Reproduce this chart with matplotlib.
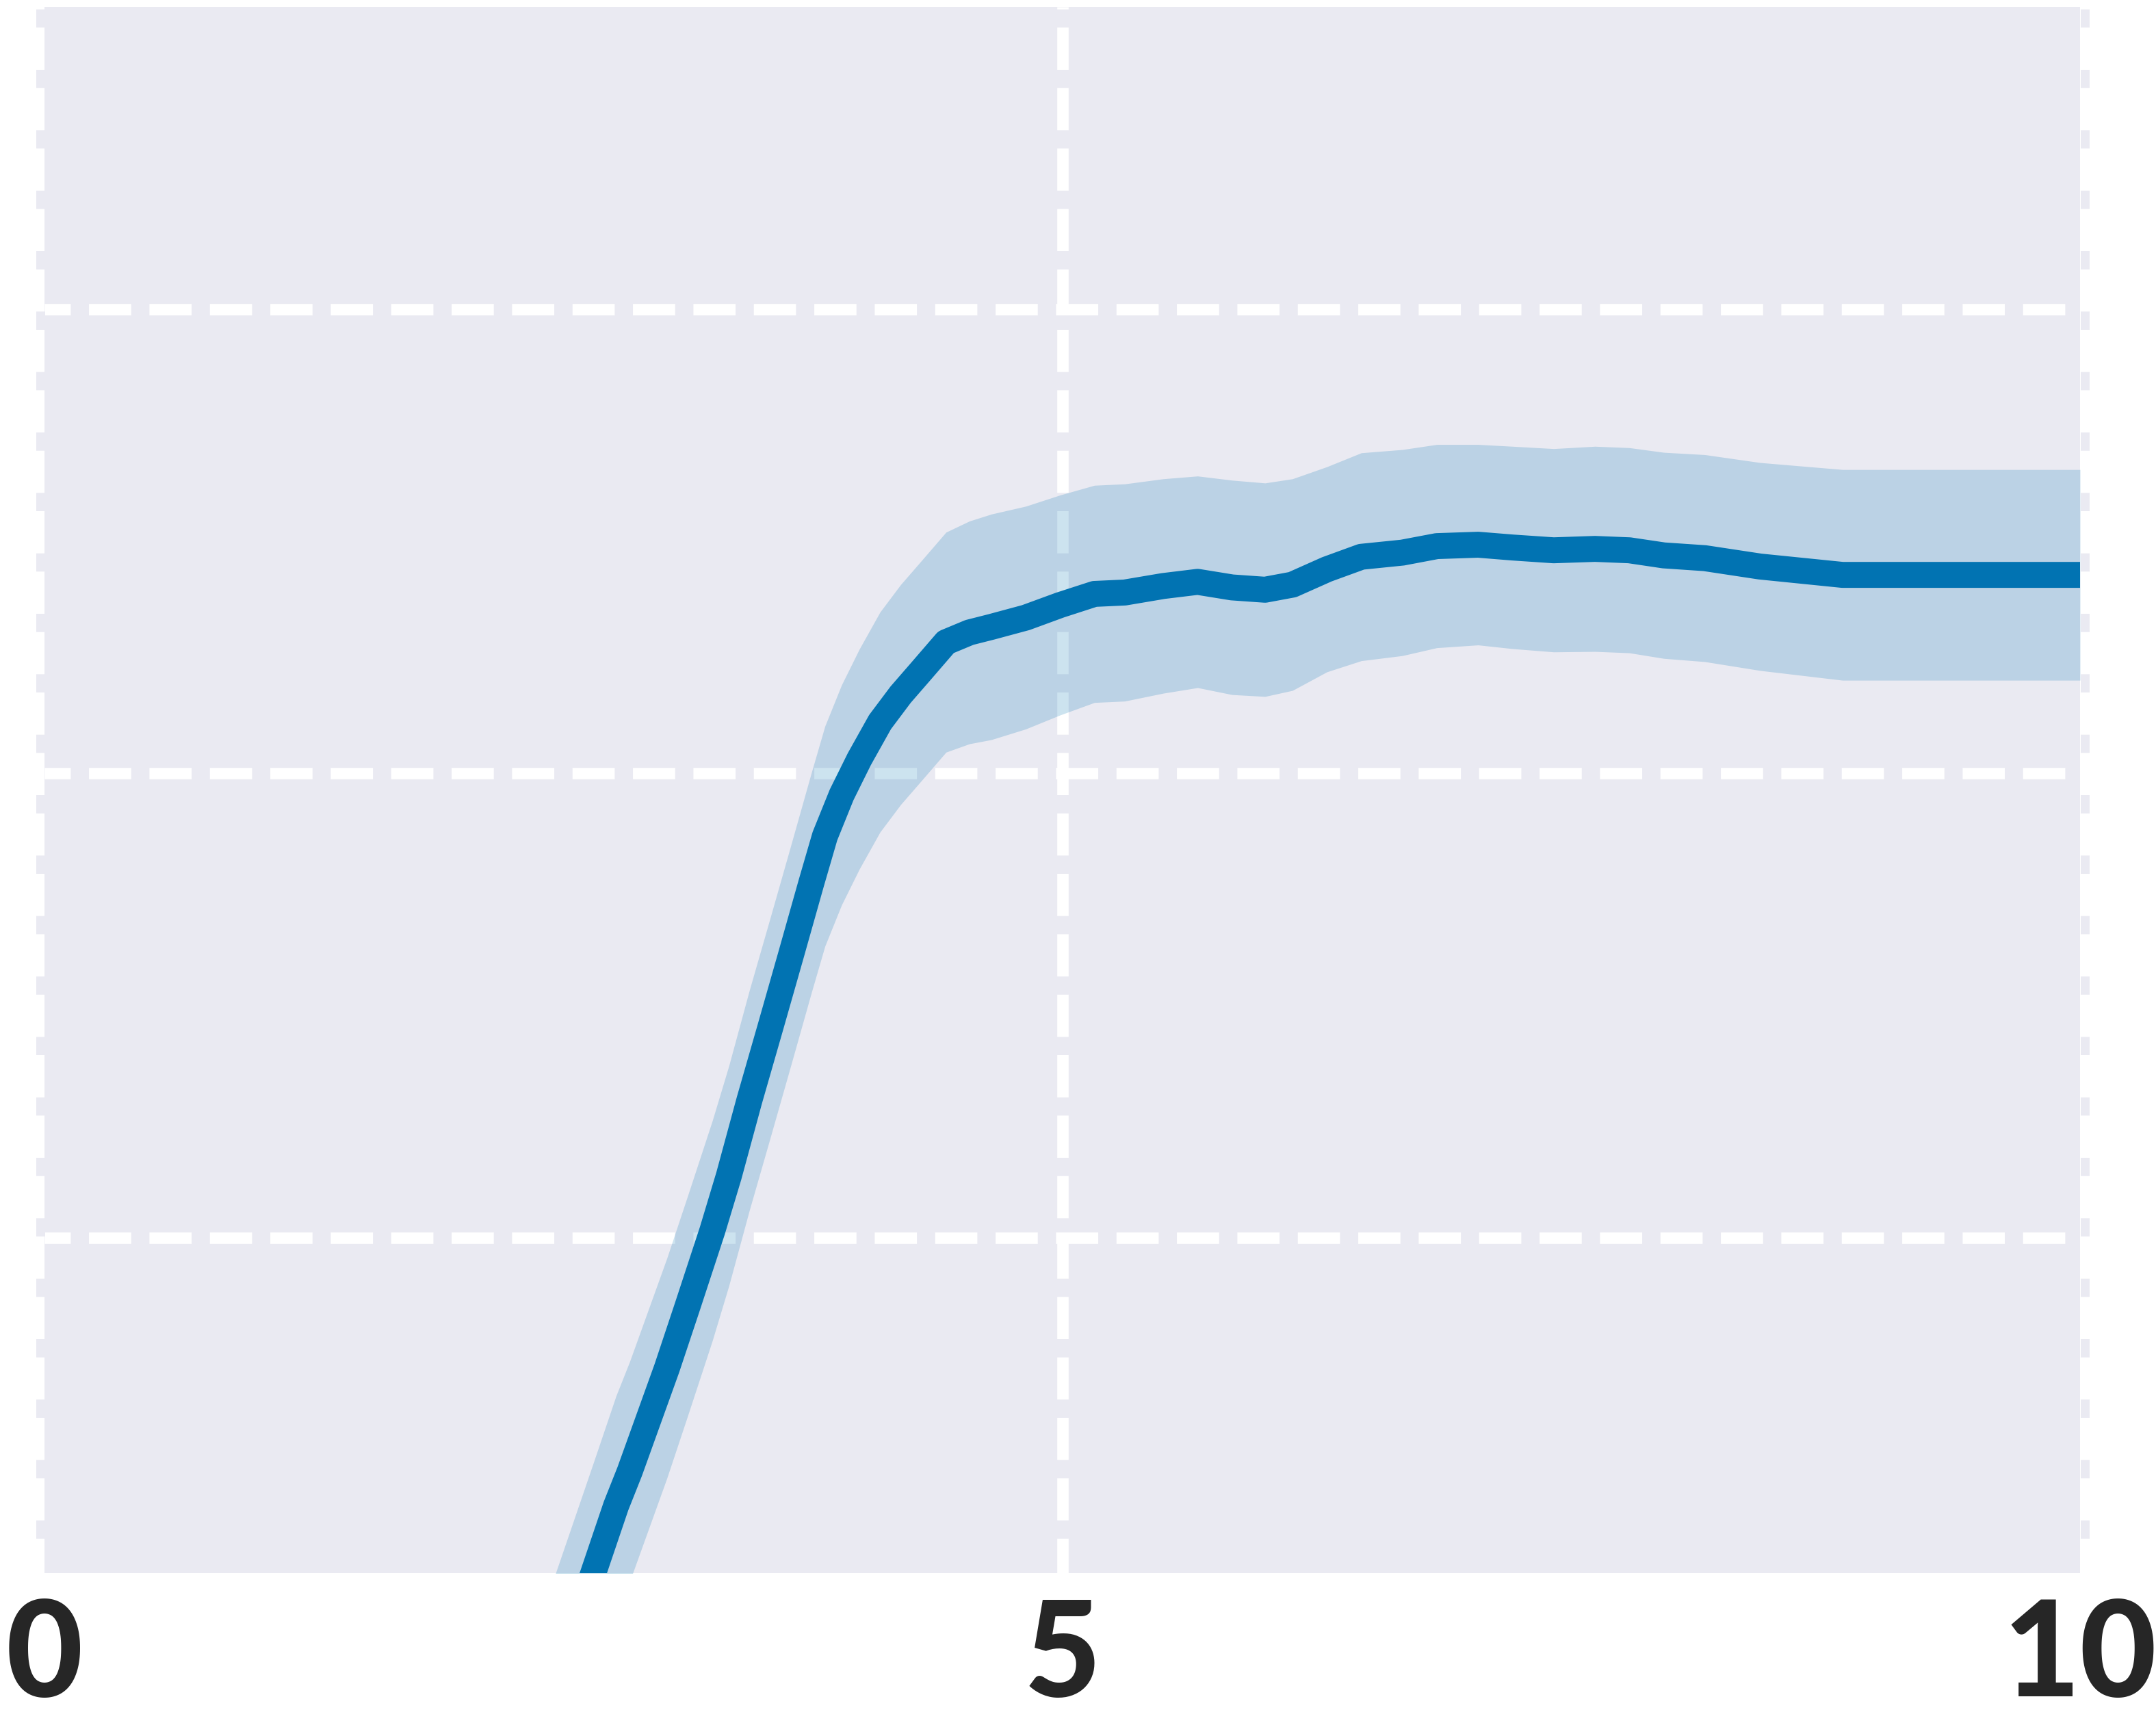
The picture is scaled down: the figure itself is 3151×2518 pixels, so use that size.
import numpy as np
import matplotlib.pyplot as plt
from matplotlib import transforms

# values
x = [2.416, 2.511, 2.696, 2.808, 2.875, 3.058, 3.159, 3.281, 3.362, 3.463,
     3.564, 3.666, 3.767, 3.834, 3.916, 4.003, 4.105, 4.206, 4.307, 4.429,
     4.544, 4.652, 4.821, 4.989, 5.158, 5.307, 5.496, 5.665, 5.834, 5.996,
     6.131, 6.300, 6.469, 6.671, 6.840, 7.043, 7.212, 7.414, 7.617, 7.786,
     7.955, 8.157, 8.428, 8.833, 9.441, 10.0]
mean = [-0.081, 0.040, 0.277, 0.422, 0.496, 0.719, 0.852, 1.015, 1.133, 1.296,
        1.450, 1.607, 1.764, 1.865, 1.954, 2.031, 2.111, 2.170, 2.221, 2.283,
        2.304, 2.316, 2.336, 2.363, 2.387, 2.390, 2.404, 2.413, 2.401, 2.396,
        2.407, 2.440, 2.467, 2.476, 2.490, 2.493, 2.487, 2.481, 2.484, 2.481,
        2.470, 2.464, 2.446, 2.428, 2.428, 2.428]
# half width of the shaded band
band = [0.237, 0.237, 0.237, 0.237, 0.237, 0.237, 0.237, 0.237, 0.237, 0.237,
        0.237, 0.237, 0.237, 0.237, 0.237, 0.237, 0.237, 0.237, 0.237, 0.237,
        0.240, 0.243, 0.240, 0.237, 0.234, 0.234, 0.231, 0.228, 0.231, 0.230,
        0.228, 0.221, 0.224, 0.222, 0.219, 0.216, 0.218, 0.219, 0.221, 0.221,
        0.222, 0.223, 0.224, 0.227, 0.227, 0.227]

xticks = [0, 5, 10]
xgrid = [5]
yticks = [1, 2, 3]
xlim = (0, 10)
ylim = (0.277, 3.652)

blue = '#0173B2'
face = '#EAEAF2'

plt.rcParams['lines.scale_dashes'] = False

dpi = 300
W, H = 3151, 2518
fig = plt.figure(figsize=(W / dpi, H / dpi), dpi=dpi)
ax = fig.add_axes([65 / W, 1 - 2299 / H, (3040 - 65) / W, (2299 - 10) / H])
ax.set_facecolor(face)
for s in ax.spines.values():
    s.set_visible(False)
ax.set_axisbelow(True)

lower = np.array(mean) - np.array(band)
upper = np.array(mean) + np.array(band)
ax.fill_between(x, lower, upper, color=blue, alpha=0.2, linewidth=0)
ax.plot(x, mean, color=blue, linewidth=9.1)

ax.set_xlim(*xlim)
ax.set_ylim(*ylim)

# ticks and dashed white grid (only the inner vertical line is drawn)
ax.xaxis.remove_overlapping_locs = False
ax.set_xticks(xticks)
ax.set_xticklabels([str(t) for t in xticks])
ax.set_xticks(xgrid, minor=True)
ax.set_yticks(yticks)
ax.tick_params(axis='x', which='both', length=0, pad=8.5)
ax.tick_params(axis='y', which='both', length=0, labelleft=False)
for lab in ax.get_xticklabels():
    lab.set_fontfamily(['Lato', 'DejaVu Sans'])
    lab.set_fontweight(900)
    lab.set_fontsize(46.5)
    lab.set_color('#262626')

ax.xaxis.grid(False, which='major')
ax.xaxis.grid(True, which='minor', color='white', linewidth=4,
              linestyle=(2.6, (14.8, 6.4)))
ax.yaxis.grid(True, which='major', color='white', linewidth=4,
              linestyle=(5.7, (14.8, 6.4)))

# dashed edge strips just outside the left and right borders
for xa, dx in ((0, -1.56), (1, 1.56)):
    tr = ax.transAxes + transforms.ScaledTranslation(dx / 72, 0, fig.dpi_scale_trans)
    ax.plot([xa, xa], [0, 1], transform=tr, color=face, linewidth=3.12,
            linestyle=(9.0, (6.4, 14.8)), clip_on=False, dash_capstyle='butt')

ax.set_xlim(*xlim)
ax.set_ylim(*ylim)

fig.savefig('out.png', dpi=dpi)
